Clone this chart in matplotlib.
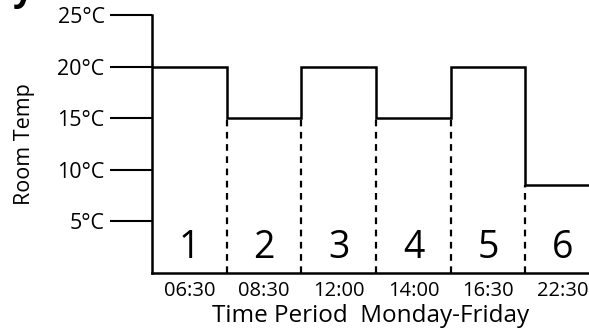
import numpy as np
import matplotlib.pyplot as plt

plt.rcParams['font.family'] = ['Open Sans', 'DejaVu Sans']

# periods of the day and the room temperature set for each
periods = ['1', '2', '3', '4', '5', '6']
times = ['06:30', '08:30', '12:00', '14:00', '16:30', '22:30']
temps = [20, 15, 20, 15, 20, 8.5]
yticks = [5, 10, 15, 20, 25]
ylabels = ['5°C', '10°C', '15°C', '20°C', '25°C']

edges = np.arange(len(temps) + 1)
centers = edges[:-1] + 0.5

fig = plt.figure(figsize=(5.89, 3.32), dpi=100)
ax = fig.add_axes([0.258, 0.178, 0.742, 0.777])

ax.stairs(temps, edges, baseline=None, color='black', linewidth=1.8)

# dashed dividers between periods
for i in range(1, len(temps)):
    low = min(temps[i - 1], temps[i])
    ax.plot([edges[i], edges[i]], [0, low], color='black',
            linestyle=(0, (3, 2.5)), linewidth=1.6)

for c, p in zip(centers, periods):
    ax.text(c, 0.6, p, ha='center', va='bottom', fontsize=27)

ax.set_xlim(0, 5.85)
ax.set_ylim(0, 25)
ax.set_xticks(centers)
ax.set_xticklabels(times, fontsize=14.5)
ax.tick_params(axis='x', length=0, pad=6)
ax.set_yticks(yticks)
ax.set_yticklabels(ylabels, fontsize=15.5)
ax.tick_params(axis='y', length=30, width=1.5, pad=4)

ax.set_xlabel('Time Period  Monday-Friday', fontsize=17.5, labelpad=2)
ax.set_ylabel('Room Temp', fontsize=15.5, labelpad=16)

ax.spines['top'].set_visible(False)
ax.spines['right'].set_visible(False)
ax.spines['left'].set_linewidth(1.8)
ax.spines['bottom'].set_linewidth(1.8)

# cut-off title fragment at top left
fig.text(0.022, 1.0, 'y', fontsize=26, fontweight='bold', va='baseline')

fig.savefig('out.png', dpi=100)
